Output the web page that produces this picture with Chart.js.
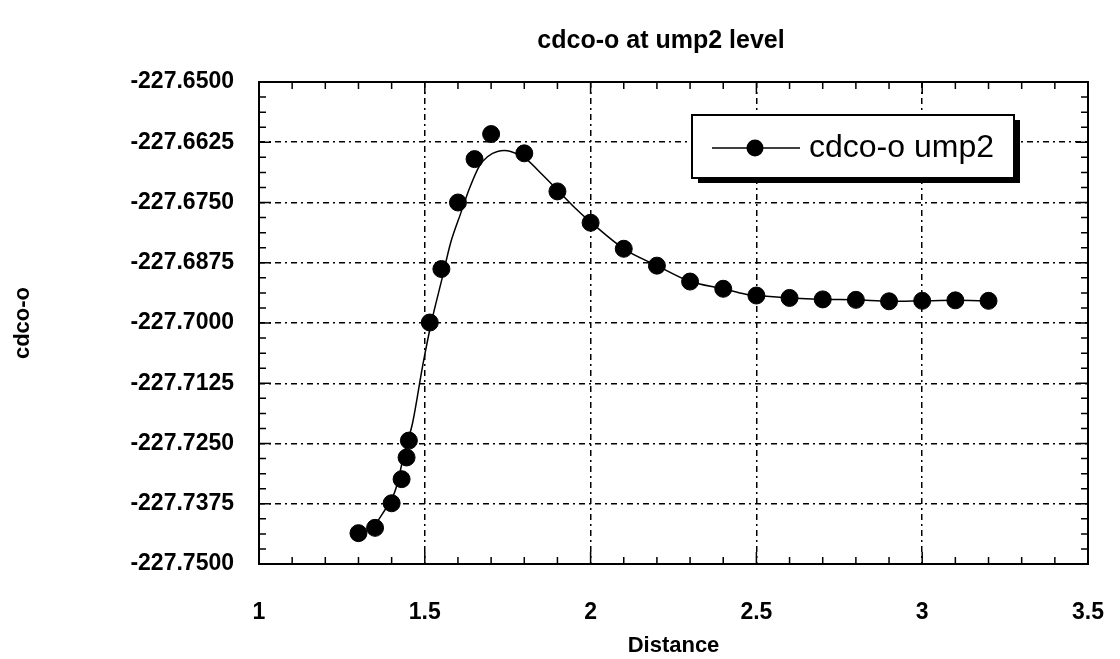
<!DOCTYPE html>
<html>
<head>
<meta charset="utf-8">
<title>cdco-o at ump2 level</title>
<script src="https://cdn.jsdelivr.net/npm/chart.js@4.4.1/dist/chart.umd.min.js"></script>
<style>
    html, body { margin: 0; padding: 0; background: #ffffff; }
    #wrap { width: 1120px; height: 659px; position: relative; }
</style>
</head>
<body>
<div id="wrap"><canvas id="energyChart"></canvas></div>
<script>
// Computed points
const distance = [1.3, 1.35, 1.4, 1.43, 1.445, 1.452, 1.515, 1.55, 1.6, 1.65, 1.7, 1.8, 1.9, 2.0,
    2.1, 2.2, 2.3, 2.4, 2.5, 2.6, 2.7, 2.8, 2.9, 3.0, 3.1, 3.2];
const energy = [-227.7436, -227.7425, -227.7374, -227.7324, -227.7279, -227.7244, -227.6999, -227.6888,
    -227.6750, -227.6660, -227.6608, -227.6648, -227.6727, -227.6792,
    -227.6846, -227.6881, -227.6914, -227.6929, -227.6943, -227.6948, -227.6951, -227.6952,
    -227.6955, -227.6954, -227.6953, -227.6954];

// Fitted curve drawn through the points
const fitX = [1.35, 1.408, 1.438, 1.463, 1.493, 1.52, 1.552, 1.579, 1.609, 1.634, 1.664, 1.689,
    1.719, 1.759, 1.804, 1.854, 1.904, 1.954, 1.994, 2.1, 2.2, 2.3, 2.4, 2.465, 2.5, 2.6, 2.7,
    2.8, 2.9, 3.0, 3.1, 3.2];
const fitY = [-227.7420, -227.7353, -227.7270, -227.7208, -227.7091, -227.6998, -227.6908, -227.6831,
    -227.6771, -227.6722, -227.6675, -227.6655, -227.6644, -227.6644, -227.6659, -227.6692,
    -227.6727, -227.6762, -227.6787, -227.6846, -227.6881, -227.6914, -227.6929, -227.6940,
    -227.6943, -227.6948, -227.6951, -227.6952, -227.6955, -227.6954, -227.6953, -227.6954];

// Axis ticks
const xTicks = [1, 1.5, 2, 2.5, 3, 3.5];
const yTicks = [-227.75, -227.7375, -227.725, -227.7125, -227.7, -227.6875, -227.675, -227.6625, -227.65];
const xMinorStep = 0.1;
const yMinorStep = 0.003125;

const chartTitle = 'cdco-o at ump2 level';
const seriesLabel = 'cdco-o ump2';
const fontFace = '"Liberation Sans", Arial, Helvetica, sans-serif';
const gridDash = [6, 4, 2, 4];

// Frame with inward ticks on all four sides, title over the plot, boxed legend with drop shadow
const framePlugin = {
    id: 'frame',
    afterDraw(chart) {
        const ctx = chart.ctx;
        const area = chart.chartArea;
        const xs = chart.scales.x;
        const ys = chart.scales.y;
        ctx.save();
        ctx.strokeStyle = '#000';
        ctx.lineWidth = 2;
        ctx.strokeRect(area.left, area.top, area.right - area.left, area.bottom - area.top);

        ctx.lineWidth = 1.5;
        ctx.beginPath();
        const nx = Math.round((xs.max - xs.min) / xMinorStep);
        for (let i = 0; i <= nx; i++) {
            const px = xs.getPixelForValue(xs.min + i * xMinorStep);
            const len = (i % 5 === 0) ? 12 : 7;
            ctx.moveTo(px, area.bottom); ctx.lineTo(px, area.bottom - len);
            ctx.moveTo(px, area.top); ctx.lineTo(px, area.top + len);
        }
        const ny = Math.round((ys.max - ys.min) / yMinorStep);
        for (let i = 0; i <= ny; i++) {
            const py = ys.getPixelForValue(ys.min + i * yMinorStep);
            const len = (i % 4 === 0) ? 12 : 7;
            ctx.moveTo(area.left, py); ctx.lineTo(area.left + len, py);
            ctx.moveTo(area.right, py); ctx.lineTo(area.right - len, py);
        }
        ctx.stroke();

        // title
        ctx.fillStyle = '#000';
        ctx.font = 'bold 25px ' + fontFace;
        ctx.textAlign = 'center';
        ctx.textBaseline = 'middle';
        ctx.fillText(chartTitle, 661, 41);

        // legend box
        const bx = 692, by = 115, bw = 322, bh = 63;
        ctx.fillRect(bx + 6, by + 5, bw, bh);
        ctx.fillStyle = '#fff';
        ctx.fillRect(bx, by, bw, bh);
        ctx.lineWidth = 2;
        ctx.strokeRect(bx, by, bw, bh);
        const ly = by + 33;
        ctx.lineWidth = 1.5;
        ctx.beginPath();
        ctx.moveTo(bx + 20, ly); ctx.lineTo(bx + 108, ly);
        ctx.stroke();
        ctx.beginPath();
        ctx.arc(bx + 63, ly, 8.5, 0, Math.PI * 2);
        ctx.fillStyle = '#000';
        ctx.fill();
        ctx.font = '32px ' + fontFace;
        ctx.textAlign = 'left';
        ctx.fillText(seriesLabel, bx + 117, ly);
        ctx.restore();
    }
};

function initializeChart() {
    const ctx = document.getElementById('energyChart').getContext('2d');
    new Chart(ctx, {
        type: 'scatter',
        data: {
            datasets: [
                {
                    label: seriesLabel,
                    data: distance.map((d, i) => ({ x: d, y: energy[i] })),
                    backgroundColor: '#000',
                    borderColor: '#000',
                    pointRadius: 8.5,
                    pointHoverRadius: 8.5,
                    showLine: false
                },
                {
                    label: 'fit',
                    data: fitX.map((d, i) => ({ x: d, y: fitY[i] })),
                    borderColor: '#000',
                    borderWidth: 1.5,
                    pointRadius: 0,
                    showLine: true,
                    tension: 0.3,
                    fill: false
                }
            ]
        },
        options: {
            responsive: true,
            maintainAspectRatio: false,
            animation: false,
            layout: { padding: { left: 0, right: 32, top: 82, bottom: 0 } },
            plugins: {
                legend: { display: false },
                tooltip: { enabled: false },
                title: { display: false }
            },
            scales: {
                x: {
                    type: 'linear',
                    min: 1,
                    max: 3.5,
                    afterBuildTicks: (scale) => { scale.ticks = xTicks.map(v => ({ value: v })); },
                    afterFit: (scale) => {
                        scale.height = 95;
                        scale.paddingLeft = 0;
                        scale.paddingRight = 0;
                    },
                    border: { display: false, dash: gridDash },
                    grid: {
                        color: (c) => (c.tick && (c.tick.value === 1 || c.tick.value === 3.5)) ? 'rgba(0,0,0,0)' : '#000',
                        lineWidth: 1.5,
                        drawTicks: false
                    },
                    ticks: {
                        color: '#000',
                        padding: 35,
                        maxRotation: 0,
                        font: { family: fontFace, size: 23, weight: 'bold' },
                        callback: (v) => String(v)
                    },
                    title: {
                        display: true,
                        text: 'Distance',
                        color: '#000',
                        font: { family: fontFace, size: 22, weight: 'bold' },
                        padding: { top: 2, bottom: 0 }
                    }
                },
                y: {
                    type: 'linear',
                    min: -227.75,
                    max: -227.65,
                    afterBuildTicks: (scale) => { scale.ticks = yTicks.map(v => ({ value: v })); },
                    afterFit: (scale) => {
                        scale.width = 259;
                        scale.paddingTop = 0;
                        scale.paddingBottom = 0;
                    },
                    border: { display: false, dash: gridDash },
                    grid: {
                        color: (c) => (c.tick && (c.index === 0 || c.index === yTicks.length - 1)) ? 'rgba(0,0,0,0)' : '#000',
                        lineWidth: 1.5,
                        drawTicks: false
                    },
                    ticks: {
                        color: '#000',
                        padding: 25,
                        font: { family: fontFace, size: 23, weight: 'bold' },
                        callback: (v) => Number(v).toFixed(4)
                    },
                    title: {
                        display: true,
                        text: 'cdco-o',
                        color: '#000',
                        font: { family: fontFace, size: 22, weight: 'bold' },
                        padding: { top: 10, bottom: 0 }
                    }
                }
            }
        },
        plugins: [framePlugin]
    });
}

document.addEventListener('DOMContentLoaded', function () {
    initializeChart();
});
</script>
</body>
</html>
